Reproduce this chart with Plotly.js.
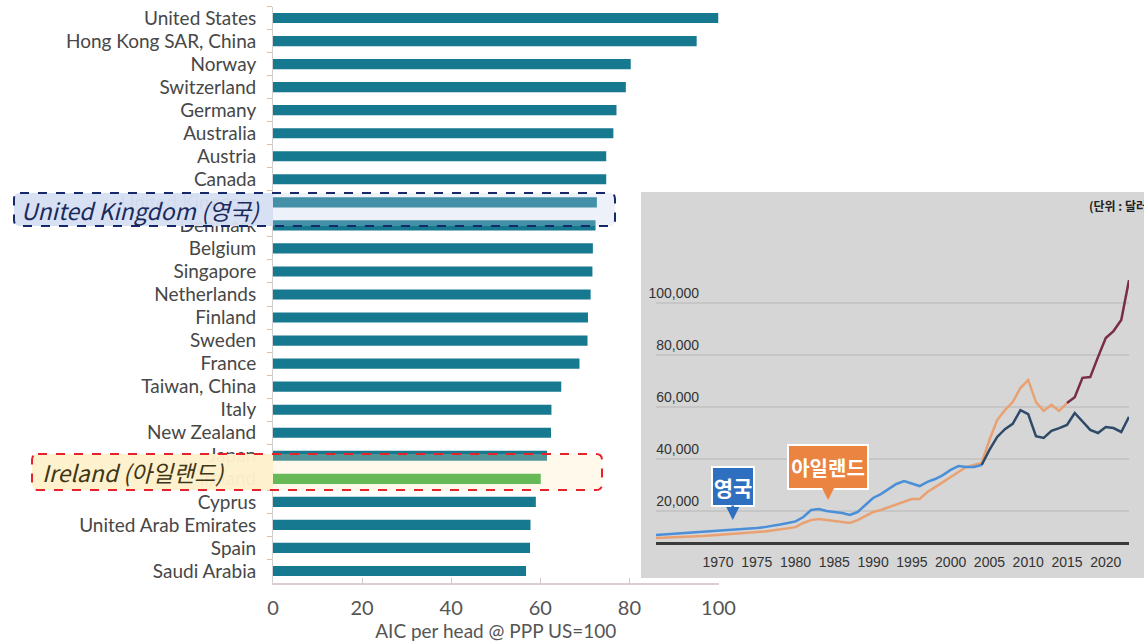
<!DOCTYPE html>
<html>
<head>
<meta charset="utf-8">
<script src="https://cdn.plot.ly/plotly-3.0.1.min.js"></script>
<style>
  html, body { margin: 0; padding: 0; background: #ffffff; }
  #chart { width: 1144px; height: 643px; }
</style>
</head>
<body>
<div id="chart"></div>
<script>
// ---------- DATA ----------
const countries = [
  "United States", "Hong Kong SAR, China", "Norway", "Switzerland", "Germany",
  "Australia", "Austria", "Canada", "United Kingdom", "Denmark", "Belgium",
  "Singapore", "Netherlands", "Finland", "Sweden", "France", "Taiwan, China",
  "Italy", "New Zealand", "Japan", "Ireland", "Cyprus", "United Arab Emirates",
  "Spain", "Saudi Arabia"
];
const aicPerHead = [
  100, 95.1, 80.3, 79.2, 77.1,
  76.4, 74.8, 74.8, 72.7, 72.4, 71.8,
  71.7, 71.3, 70.7, 70.6, 68.8, 64.7,
  62.5, 62.4, 61.5, 60.1, 59.0, 57.8,
  57.7, 56.8
];
const highlightCountry = "Ireland";
const barTitle = "AIC per head @ PPP US=100";
const barTicks = [0, 20, 40, 60, 80, 100];

const years = [
  1962, 1963, 1964, 1965, 1966, 1967, 1968, 1969, 1970, 1971,
  1972, 1973, 1974, 1975, 1976, 1977, 1978, 1979, 1980, 1981,
  1982, 1983, 1984, 1985, 1986, 1987, 1988, 1989, 1990, 1991,
  1992, 1993, 1994, 1995, 1996, 1997, 1998, 1999, 2000, 2001,
  2002, 2003, 2004, 2005, 2006, 2007, 2008, 2009, 2010, 2011,
  2012, 2013, 2014, 2015, 2016, 2017, 2018, 2019, 2020, 2021,
  2022, 2023
];
const yearTicks = [1970, 1975, 1980, 1985, 1990, 1995, 2000, 2005, 2010, 2015, 2020];
const valueTicks = [20000, 40000, 60000, 80000, 100000];
const ukValues = [
  10800, 11000, 11200, 11300, 11500, 11700, 11900, 12300, 12500, 12700,
  12900, 13100, 13300, 13500, 13800, 14200, 14800, 15400, 16000, 17700,
  20400, 20800, 20000, 19600, 19200, 18500, 19600, 22300, 25000, 26500,
  28500, 30400, 31500, 30400, 29600, 31200, 32300, 33800, 35800, 37300,
  36900, 36900, 37700, 43500, 48500, 51500, 53500, 58800, 57300, 48800,
  48100, 50800, 51900, 53100, 57700, 54600, 51200, 50000, 52300, 51900,
  50400, 56200
];
const irelandValues = [
  9600, 9700, 9800, 10000, 10100, 10200, 10400, 10600, 10800, 11000,
  11200, 11300, 11500, 11900, 12100, 12500, 12900, 13300, 13800, 15400,
  16500, 16900, 16500, 16200, 15800, 15400, 16500, 18100, 19600, 20400,
  21500, 22700, 23800, 24600, 24600, 27300, 29200, 31200, 33100, 35000,
  36900, 37700, 38500, 47300, 55000, 58800, 61900, 67300, 70400, 61900,
  58500, 60800, 58500, 61500, 63800, 71200, 71500, 79200, 86500, 89200,
  93500, 108800
];
const ukLabel = "영국";
const irelandLabel = "아일랜드";
const unitLabel = "(단위 : 달러)";
const ukBoxText = "United Kingdom (영국)";
const irelandBoxText = "Ireland (아일랜드)";

// ---------- HELPERS (layout only) ----------
const W = 1144, H = 643;
const px = x => x / W;
const py = y => 1 - y / H;
function pt(x, y) { return px(x).toFixed(5) + "," + py(y).toFixed(5); }
function roundRect(x0, y0, x1, y1, rL, rR) {
  return "M" + pt(x0 + rL, y0) +
    " L" + pt(x1 - rR, y0) +
    " Q" + pt(x1, y0) + " " + pt(x1, y0 + rR) +
    " L" + pt(x1, y1 - rR) +
    " Q" + pt(x1, y1) + " " + pt(x1 - rR, y1) +
    " L" + pt(x0 + rL, y1) +
    " Q" + pt(x0, y1) + " " + pt(x0, y1 - rL) +
    " L" + pt(x0, y0 + rL) +
    " Q" + pt(x0, y0) + " " + pt(x0 + rL, y0) + " Z";
}
function sliceBy(arrX, arrY, from, to) {
  const xs = [], ys = [];
  arrX.forEach((v, i) => { if (v >= from && v <= to) { xs.push(v); ys.push(arrY[i]); } });
  return { x: xs, y: ys };
}

// ---------- TRACES ----------
const teal = "#17798f";
const green = "#36aa3a";
const barTrace = {
  type: "bar",
  orientation: "h",
  x: aicPerHead,
  y: countries,
  xaxis: "x", yaxis: "y",
  marker: { color: countries.map(c => c === highlightCountry ? green : teal) },
  hoverinfo: "x+y"
};

const ukA = sliceBy(years, ukValues, 1962, 2004);
const ukB = sliceBy(years, ukValues, 2004, 2023);
const irA = sliceBy(years, irelandValues, 1962, 2015);
const irB = sliceBy(years, irelandValues, 2015, 2023);
const lineBase = { type: "scatter", mode: "lines", xaxis: "x2", yaxis: "y2", hoverinfo: "x+y" };

const traces = [
  barTrace,
  Object.assign({}, lineBase, { x: irA.x, y: irA.y, line: { color: "#e9a172", width: 2.5 }, name: irelandLabel }),
  Object.assign({}, lineBase, { x: irB.x, y: irB.y, line: { color: "#7a2d48", width: 2.5 }, name: irelandLabel }),
  Object.assign({}, lineBase, { x: ukA.x, y: ukA.y, line: { color: "#4a8fd8", width: 2.5 }, name: ukLabel }),
  Object.assign({}, lineBase, { x: ukB.x, y: ukB.y, line: { color: "#2e4a68", width: 2.5 }, name: ukLabel })
];

// ---------- LAYOUT ----------
const insetFont = "Liberation Sans, Arial, sans-serif";
const yVal = p => (563 - p) / 2.6 * 1000; // inset pixel -> value calibration

const layout = {
  width: W, height: H,
  margin: { l: 0, r: 0, t: 0, b: 0 },
  paper_bgcolor: "#ffffff",
  plot_bgcolor: "rgba(0,0,0,0)",
  showlegend: false,
  bargap: 0.56,
  xaxis: {
    domain: [px(273), px(718.5)],
    range: [0, 100],
    tickvals: barTicks,
    ticks: "inside", ticklen: 5, tickcolor: "#d4c4c4",
    showline: true, linecolor: "#dacfcf", linewidth: 2,
    showgrid: false, zeroline: false,
    tickfont: { family: "Lato, Roboto, sans-serif", size: 20, color: "#555555" },
    ticklabelstandoff: 6,
    title: { text: barTitle, standoff: 7, font: { family: "Lato, Roboto, sans-serif", size: 19, color: "#555555" } },
    anchor: "y"
  },
  yaxis: {
    domain: [py(582.5), py(6.5)],
    type: "category",
    categoryorder: "array", categoryarray: countries,
    autorange: "reversed",
    ticks: "outside", tickson: "boundaries", ticklen: 5, tickcolor: "#dcc0a8",
    showline: true, linecolor: "#d0d0d0", linewidth: 1,
    showgrid: false, zeroline: false,
    tickfont: { family: "Lato, Roboto, sans-serif", size: 19, color: "#474747" },
    ticklabelstandoff: 12,
    anchor: "x"
  },
  xaxis2: {
    domain: [px(656), px(1129)],
    range: [1962, 2023],
    tickvals: yearTicks,
    ticks: "",
    showline: true, linecolor: "#3a3a3a", linewidth: 3,
    showgrid: false, zeroline: false,
    tickfont: { family: insetFont, size: 14, color: "#333333" },
    ticklabelstandoff: 5,
    anchor: "y2"
  },
  yaxis2: {
    domain: [py(542), py(260)],
    range: [yVal(542), yVal(260)],
    tickvals: valueTicks,
    tickformat: ",d",
    ticks: "",
    anchor: "free",
    position: px(699),
    ticklabelposition: "outside top",
    showline: false, zeroline: false,
    showgrid: true, gridcolor: "#c6c6c6", gridwidth: 1.5,
    tickfont: { family: insetFont, size: 14, color: "#333333" }
  },
  shapes: [
    // inset panel
    { type: "rect", xref: "paper", yref: "paper", layer: "below",
      x0: px(641), x1: 1, y0: py(578), y1: py(192),
      fillcolor: "#d6d6d6", line: { width: 0 } },
    // UK highlight box
    { type: "path", xref: "paper", yref: "paper", layer: "above",
      path: roundRect(14, 193, 273, 226, 6, 0), fillcolor: "rgba(214,224,242,0.96)", line: { width: 0 } },
    { type: "path", xref: "paper", yref: "paper", layer: "above",
      path: roundRect(273, 193, 615, 226, 0, 6), fillcolor: "rgba(185,205,236,0.28)", line: { width: 0 } },
    { type: "path", xref: "paper", yref: "paper", layer: "above",
      path: roundRect(14, 193, 615, 226, 6, 6), fillcolor: "rgba(0,0,0,0)",
      line: { color: "#15296a", width: 2, dash: "dash" } },
    // Ireland highlight box
    { type: "path", xref: "paper", yref: "paper", layer: "above",
      path: roundRect(32, 454, 273, 490, 6, 0), fillcolor: "rgba(253,241,204,0.97)", line: { width: 0 } },
    { type: "path", xref: "paper", yref: "paper", layer: "above",
      path: roundRect(273, 454, 602, 490, 0, 6), fillcolor: "rgba(250,232,175,0.25)", line: { width: 0 } },
    { type: "path", xref: "paper", yref: "paper", layer: "above",
      path: roundRect(32, 454, 602, 490, 6, 6), fillcolor: "rgba(0,0,0,0)",
      line: { color: "#e8222b", width: 2, dash: "dash" } }
  ],
  annotations: [
    { xref: "paper", yref: "paper", x: px(19), y: py(209.5), xanchor: "left", yanchor: "middle",
      text: ukBoxText, showarrow: false,
      font: { family: "Noto Sans CJK KR, Noto Sans, sans-serif", size: 23, color: "#1a2a5c", style: "italic" } },
    { xref: "paper", yref: "paper", x: px(40), y: py(472), xanchor: "left", yanchor: "middle",
      text: irelandBoxText, showarrow: false,
      font: { family: "Noto Sans CJK KR, Noto Sans, sans-serif", size: 23, color: "#3f3514", style: "italic" } },
    { xref: "paper", yref: "paper", x: px(1087), y: py(205), xanchor: "left", yanchor: "middle",
      text: "<b>" + unitLabel + "</b>", showarrow: false,
      font: { family: "Noto Sans CJK KR, sans-serif", size: 12, color: "#222222" } },
    { xref: "x2", yref: "y2", x: 1971.9, y: 16500, text: "<b>" + ukLabel + "</b>",
      showarrow: true, ax: 0, ay: -34, arrowhead: 2, arrowsize: 1, arrowwidth: 2.6,
      arrowcolor: "#2f6fbf", standoff: 0,
      bgcolor: "#2f6fbf", bordercolor: "#ffffff", borderwidth: 2, borderpad: 0,
      width: 40, height: 37,
      font: { family: "Noto Sans CJK KR, sans-serif", size: 21, color: "#ffffff" } },
    { xref: "x2", yref: "y2", x: 1984.2, y: 24200, text: "<b>" + irelandLabel + "</b>",
      showarrow: true, ax: 0, ay: -33, arrowhead: 2, arrowsize: 1, arrowwidth: 2.6,
      arrowcolor: "#ea8440", standoff: 0,
      bgcolor: "#ea8440", bordercolor: "#ffffff", borderwidth: 2, borderpad: 1,
      width: 76, height: 40,
      font: { family: "Noto Sans CJK KR, sans-serif", size: 20, color: "#ffffff" } }
  ]
};

Plotly.newPlot("chart", traces, layout, { displayModeBar: false, staticPlot: true });
</script>
</body>
</html>
